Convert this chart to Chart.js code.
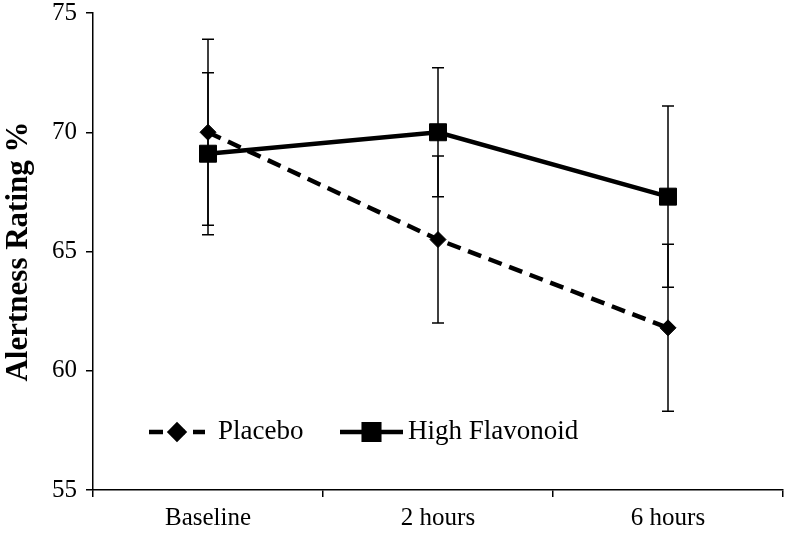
<!DOCTYPE html>
<html>
<head>
<meta charset="utf-8">
<script src="https://cdn.jsdelivr.net/npm/chart.js@4"></script>
<style>
    html, body { margin: 0; padding: 0; background: #fff; }
    #wrap { width: 786px; height: 533px; position: relative; }
</style>
</head>
<body>
<div id="wrap"><canvas id="chart"></canvas></div>
<script>
const categories = ['Baseline', '2 hours', '6 hours'];
const placebo = [70.0, 65.5, 61.8];
const placeboErr = [3.9, 3.5, 3.5];
const flavonoid = [69.1, 70.0, 67.3];
const flavonoidErr = [3.4, 2.7, 3.8];
const yTicks = [55, 60, 65, 70, 75];

const FONT = "'Liberation Serif', 'Times New Roman', serif";

// error bars, drawn through the scales
const errorBars = {
    id: 'errorBars',
    afterDatasetsDraw(chart) {
        const { ctx, scales: { x, y } } = chart;
        ctx.save();
        ctx.strokeStyle = '#000';
        ctx.lineWidth = 1.5;
        chart.data.datasets.forEach(ds => {
            ds.data.forEach((v, i) => {
                const px = x.getPixelForValue(i);
                const top = y.getPixelForValue(v + ds.errors[i]);
                const bot = y.getPixelForValue(v - ds.errors[i]);
                ctx.beginPath();
                ctx.moveTo(px, top); ctx.lineTo(px, bot);
                ctx.moveTo(px - 6, top); ctx.lineTo(px + 6, top);
                ctx.moveTo(px - 6, bot); ctx.lineTo(px + 6, bot);
                ctx.stroke();
            });
        });
        ctx.restore();
    }
};

// legend with line + marker, placed inside the plot
const lineLegend = {
    id: 'lineLegend',
    afterDraw(chart) {
        const { ctx, chartArea } = chart;
        const yPos = chartArea.top + 419;
        const items = [
            { x: chartArea.left + 56, ds: chart.data.datasets[0], width: 56 },
            { x: chartArea.left + 247, ds: chart.data.datasets[1], width: 63 }
        ];
        ctx.save();
        items.forEach(it => {
            const ds = it.ds;
            ctx.strokeStyle = '#000';
            ctx.lineWidth = 4.5;
            ctx.setLineDash(ds.borderDash || []);
            ctx.beginPath();
            ctx.moveTo(it.x, yPos);
            ctx.lineTo(it.x + it.width, yPos);
            ctx.stroke();
            ctx.setLineDash([]);
            Chart.helpers.drawPoint(ctx, {
                pointStyle: ds.pointStyle,
                radius: ds.pointStyle === 'rect' ? 11 : 7,
                borderWidth: 1
            }, it.x + it.width / 2, yPos);
            ctx.fillStyle = '#000';
            ctx.fill();
            ctx.font = '27px ' + FONT;
            ctx.textBaseline = 'middle';
            ctx.fillText(ds.label, it.x + it.width + (ds.borderDash ? 13 : 5), yPos);
        });
        ctx.restore();
    }
};

new Chart(document.getElementById('chart'), {
    type: 'line',
    data: {
        labels: categories,
        datasets: [{
            label: 'Placebo',
            data: placebo,
            errors: placeboErr,
            borderColor: '#000',
            backgroundColor: '#000',
            borderWidth: 4.5,
            borderDash: [14, 8],
            pointStyle: 'rectRot',
            pointRadius: 8,
            pointBorderWidth: 1,
            tension: 0
        }, {
            label: 'High Flavonoid',
            data: flavonoid,
            errors: flavonoidErr,
            borderColor: '#000',
            backgroundColor: '#000',
            borderWidth: 4.5,
            pointStyle: 'rect',
            pointRadius: 12,
            pointBorderWidth: 1,
            tension: 0
        }]
    },
    options: {
        responsive: true,
        maintainAspectRatio: false,
        animation: false,
        layout: { autoPadding: false, padding: { top: 13, right: 3, left: 0, bottom: 0 } },
        plugins: { legend: { display: false }, tooltip: { enabled: false } },
        scales: {
            x: {
                offset: true,
                grid: { offset: true, drawOnChartArea: false, color: '#000', lineWidth: 1.5, tickLength: 7 },
                border: { color: '#000', width: 1.5 },
                ticks: { color: '#000', font: { family: FONT, size: 25 }, padding: 6 },
                afterFit(scale) {
                    scale.height = 43;
                    scale.paddingLeft = 0;
                    scale.paddingRight = 0;
                }
            },
            y: {
                min: 55,
                max: 75,
                afterBuildTicks(scale) { scale.ticks = yTicks.map(v => ({ value: v })); },
                grid: { drawOnChartArea: false, color: '#000', lineWidth: 1.5, tickLength: 7 },
                border: { color: '#000', width: 1.5 },
                ticks: { color: '#000', font: { family: FONT, size: 25 }, padding: 9 },
                title: {
                    display: true,
                    text: 'Alertness Rating %',
                    color: '#000',
                    font: { family: FONT, size: 31, weight: 'bold' },
                    padding: { top: 0, bottom: 2 }
                },
                afterFit(scale) {
                    scale.width = 93;
                    scale.paddingTop = 0;
                    scale.paddingBottom = 0;
                }
            }
        }
    },
    plugins: [errorBars, lineLegend]
});
</script>
</body>
</html>
